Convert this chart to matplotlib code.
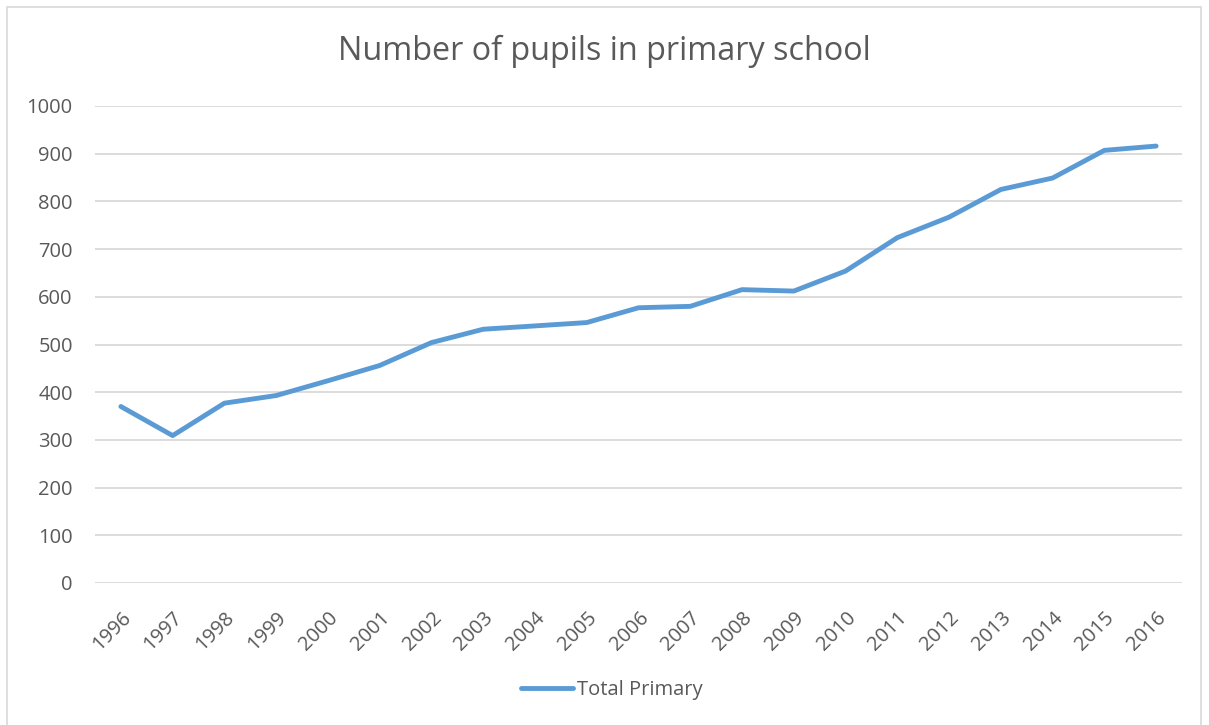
import matplotlib
matplotlib.use("Agg")
import matplotlib.pyplot as plt
from matplotlib.patches import Rectangle

years = [str(y) for y in range(1996, 2017)]
total_primary = [370, 309, 377, 393, 424, 456, 504, 532, 539, 546, 577,
                 580, 615, 612, 654, 724, 767, 825, 849, 907, 916]

plt.rcParams['font.family'] = ['Open Sans', 'DejaVu Sans']
txt = '#595959'
blue = '#5B9BD5'
grid = '#D9D9D9'

fig = plt.figure(figsize=(12.09, 7.25), dpi=100)
ax = fig.add_axes([95/1209, 1-583/725, (1182-95)/1209, (583-106)/725])

x = list(range(len(years)))
ax.plot(x, total_primary, color=blue, lw=3.5, solid_capstyle='round',
        solid_joinstyle='round', label='Total Primary')

ax.set_xlim(-0.5, len(years) - 0.5)
ax.set_ylim(0, 1000)
ax.set_yticks(range(0, 1001, 100))
ax.set_xticks(x)
ax.set_xticklabels(years, rotation=45, ha='right', rotation_mode='anchor')
ax.yaxis.grid(True, color=grid, lw=1.3)
ax.set_axisbelow(True)
for s in ax.spines.values():
    s.set_visible(False)
ax.tick_params(axis='both', length=0, colors=txt, labelsize=14.5)
ax.tick_params(axis='y', pad=16)
ax.tick_params(axis='x', pad=18)

fig.text(0.5, 1-51/725, 'Number of pupils in primary school', ha='center',
         va='center', fontsize=23.3, color=txt)

leg = fig.legend(loc='center', bbox_to_anchor=(612/1209, 1-690/725), frameon=False,
                 fontsize=14.5, handlelength=2.6, handletextpad=0.2)
for t in leg.get_texts():
    t.set_color(txt)

fig.patches.append(Rectangle((7/1209, -0.05), (1201-7)/1209, 1.05-7/725,
                             transform=fig.transFigure, fill=False,
                             edgecolor='#D9D9D9', lw=1.2))

fig.savefig('out.png', dpi=100)
